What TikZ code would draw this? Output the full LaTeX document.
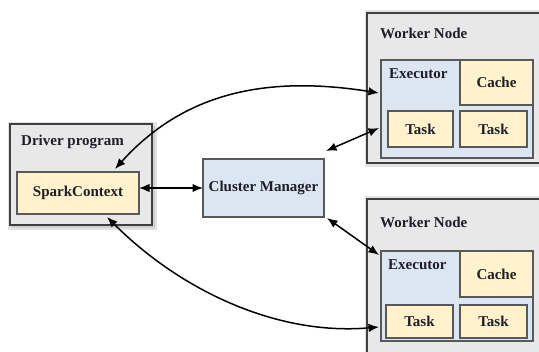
\documentclass[tikz,border=0pt]{standalone}
\usepackage{fontspec}
\setmainfont{Liberation Serif}
\usetikzlibrary{arrows.meta,calc}
\definecolor{outerfill}{HTML}{E8E8E8}
\definecolor{outerline}{HTML}{3F3F3F}
\definecolor{bluefill}{HTML}{DCE6F2}
\definecolor{yellowfill}{HTML}{FFF2CC}
\definecolor{innerline}{HTML}{595959}
\definecolor{shadowcol}{HTML}{D0D0D0}
\definecolor{txt}{HTML}{1E1E28}
\tikzset{
  outerbox/.style={draw=outerline, line width=2.2pt, fill=outerfill, inner sep=0pt, outer sep=0pt},
  bluebox/.style={draw=innerline, line width=1.2pt, fill=bluefill, inner sep=0pt, outer sep=0pt, text=txt, font=\fontsize{15}{17}\selectfont\bfseries},
  yellowbox/.style={draw=innerline, line width=1.2pt, fill=yellowfill, inner sep=0pt, outer sep=0pt, text=txt, font=\fontsize{15}{17}\selectfont\bfseries},
  lbl/.style={anchor=west, inner sep=0pt, text=txt, font=\fontsize{15}{17}\selectfont\bfseries},
  conn/.style={line width=1.5pt, black, {Latex[length=10.5pt,width=8.5pt]}-{Latex[length=10.5pt,width=8.5pt]}}
}
\begin{document}
\begin{tikzpicture}[x=1pt,y=-1pt]
\clip (0,0) rectangle (539,352);
\fill[white] (0,0) rectangle (539,352);
% shadows
\fill[shadowcol!60] (8,122) rectangle (157,230);
\fill[shadowcol] (12,126) rectangle (155,228);
\fill[shadowcol!60] (365,10) rectangle (560,167);
\fill[shadowcol!60] (365,196) rectangle (560,370);
% driver
\node[outerbox, minimum width=142pt, minimum height=101pt] (driver) at (81,174.5) {};
\node[lbl] (driverlbl) at (21,142) {Driver program};
\node[yellowbox, minimum width=122pt, minimum height=42pt] (spark) at (78,193) {SparkContext};
% cluster manager
\node[bluebox, minimum width=121pt, minimum height=58pt] (cm) at (263.5,188) {Cluster Manager};
% worker 1
\node[outerbox, minimum width=193pt, minimum height=150pt] (w1) at (463.5,88) {};
\node[lbl] (w1lbl) at (380,33) {Worker Node};
\node[bluebox, minimum width=152pt, minimum height=98pt] (e1) at (457,109) {};
\node[lbl] (e1lbl) at (389,74) {Executor};
\node[yellowbox, minimum width=73pt, minimum height=45pt] (c1) at (496.5,82.5) {Cache};
\node[yellowbox, minimum width=65pt, minimum height=36pt] (t1a) at (420.5,129) {Task};
\node[yellowbox, minimum width=67pt, minimum height=36pt] (t1b) at (493.5,129) {Task};
% worker 2
\node[outerbox, minimum width=193pt, minimum height=171pt] (w2) at (463.5,284.5) {};
\node[lbl] (w2lbl) at (380,222) {Worker Node};
\node[bluebox, minimum width=152pt, minimum height=90pt] (e2) at (457,296) {};
\node[lbl] (e2lbl) at (388,265) {Executor};
\node[yellowbox, minimum width=73pt, minimum height=46pt] (c2) at (496.5,274) {Cache};
\node[yellowbox, minimum width=67pt, minimum height=33pt] (t2a) at (419.5,321.5) {Task};
\node[yellowbox, minimum width=67pt, minimum height=33pt] (t2b) at (493.5,321.5) {Task};
% free ends
\coordinate (cmne) at ([shift={(2pt,8pt)}]cm.north east);
\coordinate (cmse) at ([shift={(3pt,-1pt)}]cm.south east);
% connectors
\draw[conn] ([xshift=-24pt,yshift=3pt]spark.north east) to[out=48,in=171] ([shift={(-2pt,16pt)}]e1.west);
\draw[conn] (cm.west -| spark.east) -- (cm.west);
\draw[conn] ([shift={(-2pt,-19pt)}]e1.west) -- (cmne);
\draw[conn] (cmse) -- ([shift={(-2pt,41pt)}]e2.west);
\draw[conn] ([xshift=29pt,yshift=-3pt]spark.south) to[out=-45,in=185,looseness=0.9] ([shift={(-2pt,-31pt)}]e2.west);
\end{tikzpicture}
\end{document}
